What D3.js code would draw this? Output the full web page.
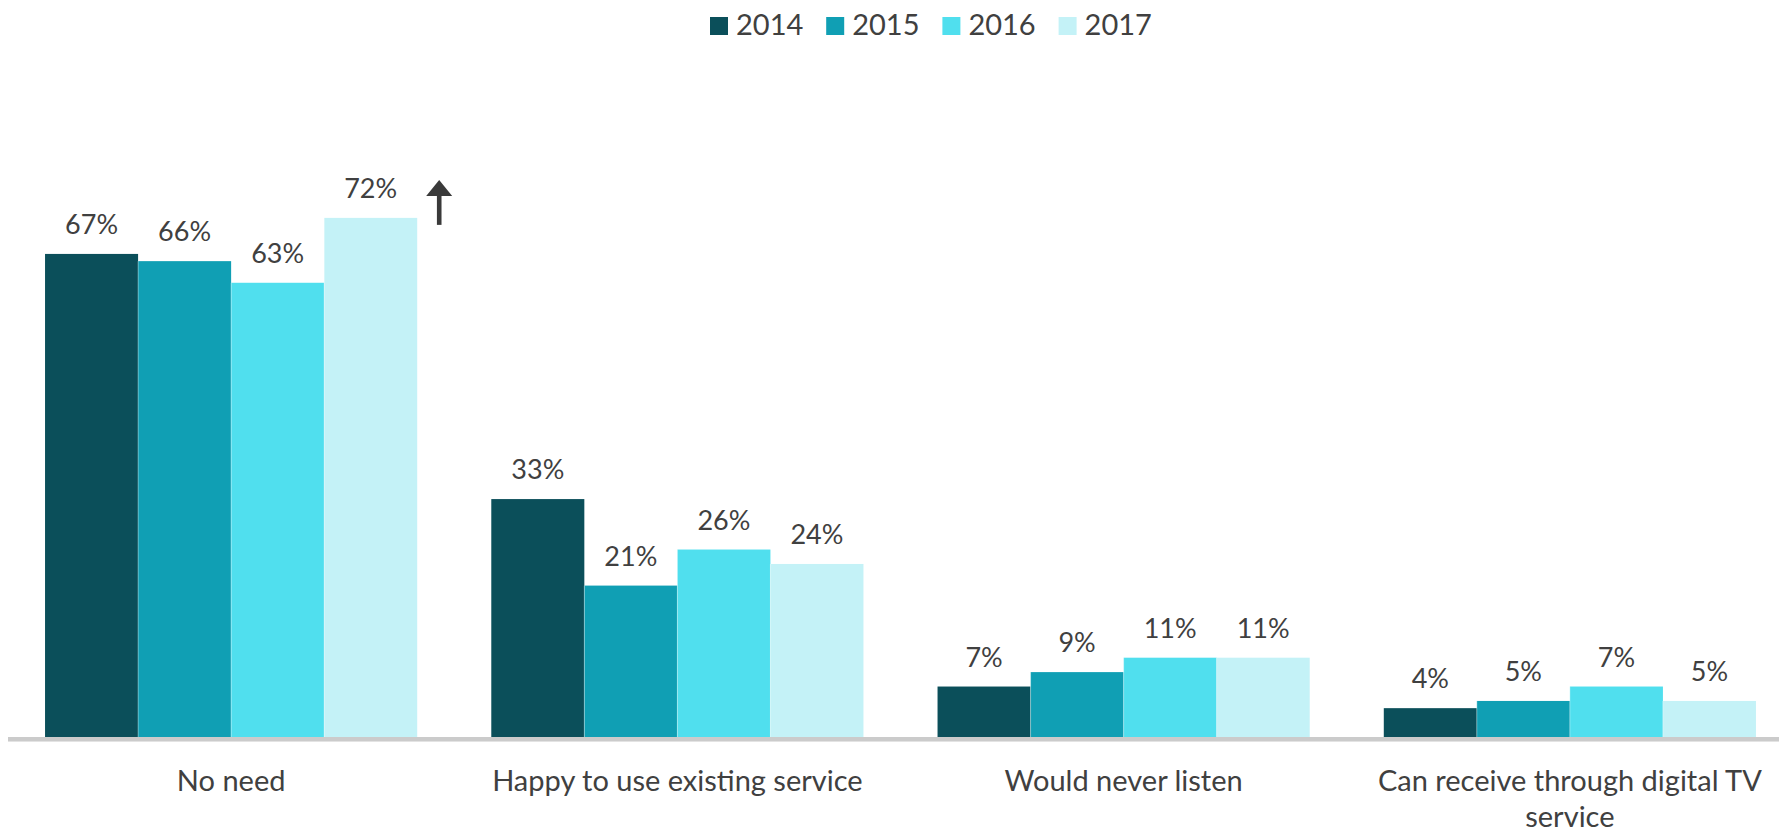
<!DOCTYPE html>
<html>
<head>
<meta charset="utf-8">
<script src="https://cdn.jsdelivr.net/npm/d3@7/dist/d3.min.js"></script>
<style>
  html, body { margin: 0; padding: 0; background: #ffffff; }
  svg { display: block; }
  text { font-family: Lato, "Noto Sans", sans-serif; fill: #404040; }
</style>
</head>
<body>
<svg id="chart" width="1779" height="832"></svg>
<script>
// Reasons for not listening — share of respondents by year
const categories = ["No need", "Happy to use existing service", "Would never listen", "Can receive through digital TV service"];
const years = ["2014", "2015", "2016", "2017"];
const values2014 = [67, 33, 7, 4];
const values2015 = [66, 21, 9, 5];
const values2016 = [63, 26, 11, 7];
const values2017 = [72, 24, 11, 5];
const colors = ["#0b4f5a", "#109fb4", "#50dfee", "#c4f2f7"];

const series = [values2014, values2015, values2016, values2017];

const width = 1779, height = 832;
const svg = d3.select("#chart");

const x0 = d3.scaleBand()
  .domain(categories)
  .range([8, 1793])
  .paddingInner(0.166)
  .paddingOuter(0.083);

const x1 = d3.scaleBand()
  .domain(years)
  .range([0, x0.bandwidth()])
  .padding(0);

const y = d3.scaleLinear().domain([0, 100]).range([737, 16]);

const color = d3.scaleOrdinal().domain(years).range(colors);

// Flatten into rows for drawing
const rows = [];
categories.forEach((c, i) => {
  years.forEach((yr, j) => rows.push({ category: c, year: yr, value: series[j][i] }));
});

// Bars
svg.append("g").selectAll("rect")
  .data(rows)
  .join("rect")
  .attr("x", d => x0(d.category) + x1(d.year))
  .attr("y", d => y(d.value))
  .attr("width", x1.bandwidth())
  .attr("height", d => y(0) - y(d.value))
  .attr("fill", d => color(d.year));

// Thin separators between adjacent bars
svg.append("g").selectAll("line")
  .data(rows.filter(d => d.year !== years[0]))
  .join("line")
  .attr("x1", d => x0(d.category) + x1(d.year))
  .attr("x2", d => x0(d.category) + x1(d.year))
  .attr("y1", d => y(d.value))
  .attr("y2", y(0))
  .attr("stroke", "#ffffff")
  .attr("stroke-opacity", 0.35)
  .attr("stroke-width", 1);

// Value labels
svg.append("g").selectAll("text")
  .data(rows)
  .join("text")
  .attr("x", d => x0(d.category) + x1(d.year) + x1.bandwidth() / 2)
  .attr("y", d => y(d.value) - 20)
  .attr("text-anchor", "middle")
  .style("font-size", "27px")
  .text(d => d.value + "%");

// Category axis
const xAxis = d3.axisBottom(x0).tickSize(0).tickPadding(0);
const axisG = svg.append("g")
  .attr("transform", `translate(0, ${y(0)})`)
  .call(xAxis);
axisG.select(".domain").remove();
axisG.selectAll(".tick text")
  .attr("fill", "#404040")
  .style("font-size", "29px")
  .style("font-family", "Lato, 'Noto Sans', sans-serif")
  .attr("y", 54)
  .attr("dy", 0)
  .call(wrap, 390);

// Baseline
svg.append("rect")
  .attr("x", 8)
  .attr("y", y(0))
  .attr("width", width - 8)
  .attr("height", 4)
  .attr("fill", "#cbcbcb");
svg.append("rect")
  .attr("x", 8)
  .attr("y", y(0) + 4)
  .attr("width", width - 8)
  .attr("height", 1)
  .attr("fill", "#e3e3e3");

// Upward trend arrow beside the 2017 "No need" bar
const arrowX = x0(categories[0]) + x1("2017") + x1.bandwidth() + 22;
const arrowTop = y(values2017[0]) - 38;
const arrow = svg.append("g").attr("fill", "#3a3a3a");
arrow.append("rect")
  .attr("x", arrowX - 2.3)
  .attr("y", arrowTop + 15)
  .attr("width", 4.6)
  .attr("height", 30);
arrow.append("path")
  .attr("d", `M${arrowX},${arrowTop} L${arrowX + 13},${arrowTop + 16} L${arrowX - 13},${arrowTop + 16} Z`);

// Legend
const legend = svg.append("g").attr("transform", "translate(710, 17)");
const item = legend.selectAll("g")
  .data(years)
  .join("g")
  .attr("transform", (d, i) => `translate(${i * 116.2}, 0)`);
item.append("rect")
  .attr("width", 18)
  .attr("height", 18)
  .attr("fill", d => color(d));
item.append("text")
  .attr("x", 26)
  .attr("y", 18)
  .style("font-size", "29px")
  .text(d => d);

function wrap(sel, maxWidth) {
  sel.each(function () {
    const t = d3.select(this);
    const words = t.text().split(/\s+/);
    const x = t.attr("x") || 0;
    const y0 = t.attr("y");
    t.text(null);
    let line = [];
    let lineNo = 0;
    let tspan = t.append("tspan").attr("x", x).attr("y", y0);
    words.forEach(w => {
      line.push(w);
      tspan.text(line.join(" "));
      if (tspan.node().getComputedTextLength() > maxWidth && line.length > 1) {
        line.pop();
        tspan.text(line.join(" "));
        line = [w];
        lineNo++;
        tspan = t.append("tspan").attr("x", x).attr("y", +y0 + lineNo * 36).text(w);
      }
    });
  });
}
</script>
</body>
</html>
